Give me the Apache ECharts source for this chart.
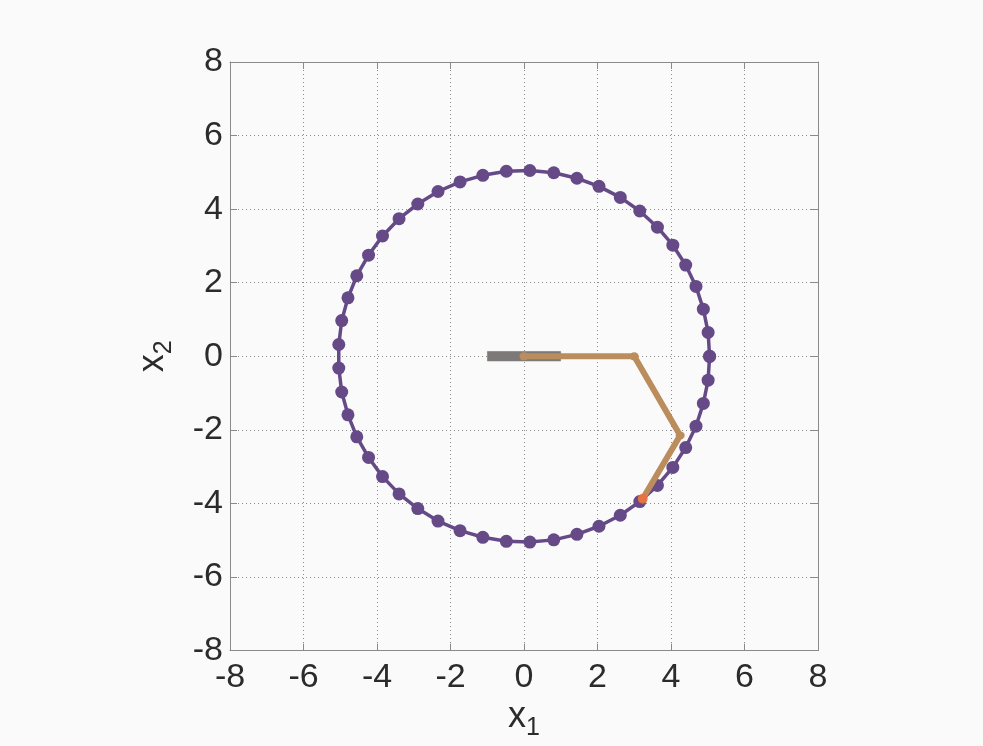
<!DOCTYPE html>
<html>
<head>
<meta charset="utf-8">
<script src="https://cdn.jsdelivr.net/npm/echarts@6/dist/echarts.min.js"></script>
<style>
  html, body { margin: 0; padding: 0; background: #fafafa; }
  #chart { width: 983px; height: 746px; }
</style>
</head>
<body>
<div id="chart"></div>
<script>
// Sampled target path (x1, x2), traversed once and closed back to the start
const pathX1 = [5.05, 5.01, 4.88, 4.68, 4.40, 4.05, 3.63, 3.15, 2.62, 2.04, 1.44, 0.81, 0.16,
  -0.48, -1.12, -1.74, -2.34, -2.89, -3.40, -3.85, -4.23, -4.55, -4.79, -4.96, -5.04,
  -5.04, -4.96, -4.79, -4.55, -4.23, -3.85, -3.40, -2.89, -2.34, -1.74, -1.12, -0.48,
  0.16, 0.81, 1.44, 2.04, 2.62, 3.15, 3.63, 4.05, 4.40, 4.68, 4.88, 5.01, 5.05];
const pathX2 = [0.00, 0.65, 1.28, 1.90, 2.48, 3.02, 3.51, 3.95, 4.32, 4.62, 4.84, 4.99, 5.05,
  5.03, 4.92, 4.74, 4.48, 4.14, 3.74, 3.27, 2.75, 2.19, 1.59, 0.97, 0.32,
  -0.32, -0.97, -1.59, -2.19, -2.75, -3.27, -3.74, -4.14, -4.48, -4.74, -4.92, -5.03,
  -5.05, -4.99, -4.84, -4.62, -4.32, -3.95, -3.51, -3.02, -2.48, -1.90, -1.28, -0.65, 0.00];

// Fixed base plate
const baseX1 = [-1, 1];
const baseX2 = [0, 0];

// Arm joints: base, shoulder, elbow, end effector
const armX1 = [0, 3.0, 4.25, 3.23];
const armX2 = [0, 0.0, -2.15, -3.87];

// Axis ticks
const tickMin = -8, tickMax = 8, tickStep = 2;

const zip = (a, b) => a.map((v, i) => [v, b[i]]);

const textColor = '#2b2b2b';
const frameColor = '#8a8a8a';

const baseAxis = {
  type: 'value', min: tickMin, max: tickMax, interval: tickStep,
  axisLine: { show: true, onZero: false, lineStyle: { color: frameColor, width: 1 } },
  axisTick: { show: true, inside: true, length: 7, lineStyle: { color: frameColor } },
  splitLine: { show: false },
  axisLabel: { show: false }
};

const nameRich = {
  b: { fontSize: 36, color: textColor, fontFamily: 'Liberation Sans' },
  s: { fontSize: 25, color: textColor, fontFamily: 'Liberation Sans', padding: [22, 0, 0, 0] }
};

const chart = echarts.init(document.getElementById('chart'), null, { renderer: 'canvas' });
chart.setOption({
  animation: false,
  backgroundColor: '#fafafa',
  grid: { left: 230, top: 62, width: 588, height: 589, show: false },
  xAxis: [
    Object.assign({}, baseAxis, {
      position: 'bottom',
      axisLabel: { show: true, color: textColor, fontSize: 34, fontFamily: 'Liberation Sans', margin: 10 },
      splitLine: { show: true, lineStyle: { color: '#8c8c8c', type: [1, 3], width: 1 } },
      name: '{b|x}{s|1}', nameLocation: 'middle', nameGap: 40,
      nameTextStyle: { color: textColor, fontFamily: 'Liberation Sans', rich: nameRich }
    }),
    Object.assign({}, baseAxis, { position: 'top' })
  ],
  yAxis: [
    Object.assign({}, baseAxis, {
      position: 'left',
      axisLabel: { show: true, color: textColor, fontSize: 34, fontFamily: 'Liberation Sans', margin: 7 },
      splitLine: { show: true, lineStyle: { color: '#8c8c8c', type: [1, 3], width: 1 } },
      name: '{b|x}{s|2}', nameLocation: 'middle', nameGap: 53, nameRotate: 90,
      nameTextStyle: { color: textColor, fontFamily: 'Liberation Sans', rich: nameRich }
    }),
    Object.assign({}, baseAxis, { position: 'right' })
  ],
  series: [
    {
      type: 'line', name: 'path', data: zip(pathX1, pathX2),
      symbol: 'circle', symbolSize: 13, showSymbol: true,
      lineStyle: { color: '#654a87', width: 3.5 },
      itemStyle: { color: '#654a87' },
      z: 2
    },
    {
      type: 'line', name: 'base', data: zip(baseX1, baseX2),
      symbol: 'none',
      lineStyle: { color: '#7d7979', width: 10, cap: 'butt', shadowColor: 'rgba(160,160,160,0.6)', shadowBlur: 1 },
      z: 3
    },
    {
      type: 'line', name: 'arm', data: zip(armX1, armX2),
      symbol: 'circle', symbolSize: [9, 8, 0, 0],
      lineStyle: { color: '#bb8d5d', width: 6, join: 'miter' },
      itemStyle: { color: '#bb8d5d' },
      z: 4
    },
    {
      type: 'scatter', name: 'tip', data: [[armX1[3], armX2[3]]],
      symbol: 'circle', symbolSize: 10,
      itemStyle: { color: '#f06e3c' },
      z: 5
    }
  ]
});
</script>
</body>
</html>
